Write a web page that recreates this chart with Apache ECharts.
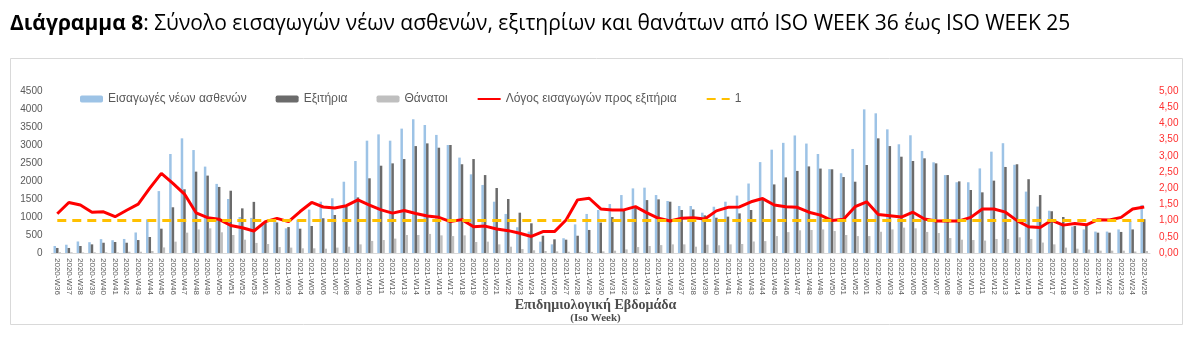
<!DOCTYPE html>
<html>
<head>
<meta charset="utf-8">
<script src="https://cdn.jsdelivr.net/npm/echarts@6/dist/echarts.min.js"></script>
<style>
html,body{margin:0;padding:0;background:#fff;}
#chart{width:1191px;height:338px;}
</style>
</head>
<body>
<div id="chart"></div>
<script>
const weeks = [
"2020-W36","2020-W37","2020-W38","2020-W39","2020-W40","2020-W41","2020-W42","2020-W43","2020-W44","2020-W45",
"2020-W46","2020-W47","2020-W48","2020-W49","2020-W50","2020-W51","2020-W52","2020-W53",
"2021-W01","2021-W02","2021-W03","2021-W04","2021-W05","2021-W06","2021-W07","2021-W08","2021-W09","2021-W10",
"2021-W11","2021-W12","2021-W13","2021-W14","2021-W15","2021-W16","2021-W17","2021-W18","2021-W19","2021-W20",
"2021-W21","2021-W22","2021-W23","2021-W24","2021-W25","2021-W26","2021-W27","2021-W28","2021-W29","2021-W30",
"2021-W31","2021-W32","2021-W33","2021-W34","2021-W35","2021-W36","2021-W37","2021-W38","2021-W39","2021-W40",
"2021-W41","2021-W42","2021-W43","2021-W44","2021-W45","2021-W46","2021-W47","2021-W48","2021-W49","2021-W50",
"2021-W51","2021-W52",
"2022-W01","2022-W02","2022-W03","2022-W04","2022-W05","2022-W06","2022-W07","2022-W08","2022-W09","2022-W10",
"2022-W11","2022-W12","2022-W13","2022-W14","2022-W15","2022-W16","2022-W17","2022-W18","2022-W19","2022-W20",
"2022-W21","2022-W22","2022-W23","2022-W24","2022-W25"
];

const admissions = [
195,230,320,300,385,355,390,570,935,1720,
2750,3185,2860,2400,1920,1500,1000,975,
850,900,685,925,1205,1425,1520,1980,2555,3120,
3295,3120,3455,3715,3555,3280,3000,2650,2185,1890,
1425,1085,715,595,315,240,410,795,1085,1195,
1360,1610,1795,1815,1610,1445,1305,1305,1120,1285,
1425,1595,1930,2525,2870,3060,3265,3040,2750,2330,
2215,2890,
3990,3880,3435,3020,3270,2835,2520,2165,1965,1965,
2350,2815,3050,2450,1705,1290,1175,825,735,655,
595,595,655,890,1335
];

const discharges = [
140,140,195,240,285,305,285,360,445,675,
1270,1770,2260,2150,1835,1730,1240,1420,
870,850,720,675,750,965,1055,1285,1545,2075,
2425,2490,2610,2970,3045,2925,3000,2465,2610,2165,
1805,1500,1120,825,480,380,370,480,640,845,
1000,1220,1250,1470,1490,1425,1195,1210,1045,980,
1010,1100,1195,1500,1905,2100,2280,2405,2345,2325,
2110,1980,
2445,3185,2970,2675,2555,2630,2490,2165,1990,1750,
1685,2010,2390,2465,2050,1610,1160,1000,750,760,
565,565,585,655,940
];

const deaths = [
20,20,15,20,20,15,35,35,55,155,
315,565,655,685,575,500,370,280,
250,165,150,130,130,120,150,175,240,335,
360,400,500,500,530,490,470,490,305,315,
240,175,110,75,55,45,35,30,30,45,
65,100,165,195,220,240,240,175,230,215,
240,250,320,330,470,580,630,640,655,610,
500,470,
470,590,655,705,685,585,555,415,370,360,
345,390,390,435,390,290,240,150,120,95,
65,65,65,40,55
];

const ratio = [
1.21,1.56,1.48,1.26,1.27,1.12,1.32,1.51,2.00,2.46,
2.15,1.82,1.24,1.09,1.04,0.85,0.78,0.68,
0.97,1.07,0.97,1.28,1.56,1.42,1.39,1.46,1.64,1.48,
1.33,1.23,1.31,1.22,1.14,1.10,0.97,1.03,0.81,0.83,
0.74,0.69,0.61,0.51,0.66,0.66,1.02,1.64,1.69,1.36,
1.33,1.33,1.43,1.24,1.07,0.99,1.07,1.09,1.05,1.30,
1.41,1.42,1.58,1.68,1.48,1.43,1.41,1.26,1.17,1.00,
1.04,1.43,
1.58,1.19,1.15,1.11,1.26,1.05,0.99,0.99,0.99,1.10,
1.36,1.36,1.26,1.00,0.81,0.79,1.01,0.86,0.91,0.87,
1.03,1.02,1.10,1.36,1.42
];

const oneLine = weeks.map(function(){ return 1; });

const seriesNames = ["Εισαγωγές νέων ασθενών","Εξιτήρια","Θάνατοι","Λόγος εισαγωγών προς εξιτήρια","1"];
const leftTicks = {min:0, max:4500, interval:500};
const rightTicks = {min:0, max:5, interval:0.5};

const chart = echarts.init(document.getElementById('chart'), null, {renderer:'canvas'});
const FONT = 'Liberation Sans, Arial, sans-serif';

chart.setOption({
  animation:false,
  backgroundColor:'#ffffff',
  title:{
    left:5, top:9,
    text:'{b|Διάγραμμα 8}{n|: Σύνολο εισαγωγών νέων ασθενών, εξιτηρίων και θανάτων από ISO WEEK 36 έως ISO WEEK 25}',
    textStyle:{
      rich:{
        b:{fontFamily:'Open Sans', fontSize:21, fontWeight:'bold', color:'#000'},
        n:{fontFamily:'Open Sans', fontSize:21, fontWeight:'normal', color:'#000'}
      }
    }
  },
  graphic:[
    {type:'rect', shape:{x:10.5, y:58.5, width:1172, height:266}, style:{fill:'none', stroke:'#D9D9D9', lineWidth:1}, silent:true, z:-1},
    {type:'text', left:'center', top:298, style:{text:'Επιδημιολογική Εβδομάδα', font:'bold 14px "Liberation Serif", "Times New Roman", serif', fill:'#4D4D4D'}},
    {type:'text', left:'center', top:313, style:{text:'(Iso Week)', font:'bold 11px "Liberation Serif", "Times New Roman", serif', fill:'#4D4D4D'}}
  ],
  legend:{
    left:75, top:88,
    itemWidth:23, itemHeight:7, itemGap:29,
    textStyle:{fontFamily:FONT, fontSize:12, color:'#595959'},
    data:seriesNames
  },
  grid:{left:51.5, right:41, top:91, bottom:85, containLabel:false},
  xAxis:{
    type:'category', data:weeks,
    axisLine:{lineStyle:{color:'#D9D9D9'}},
    axisTick:{show:false},
    axisLabel:{interval:0, rotate:-90, fontSize:8, color:'#595959', fontFamily:FONT, margin:5}
  },
  yAxis:[
    {type:'value', min:leftTicks.min, max:leftTicks.max, interval:leftTicks.interval,
     splitLine:{show:false}, axisLine:{show:false}, axisTick:{show:false},
     axisLabel:{fontSize:10, color:'#595959', fontFamily:FONT, margin:9,
       formatter:function(v){ return String(v); }}},
    {type:'value', min:rightTicks.min, max:rightTicks.max, interval:rightTicks.interval,
     splitLine:{show:false}, axisLine:{show:false}, axisTick:{show:false},
     axisLabel:{fontSize:10, color:'#FF3030', fontFamily:FONT, margin:9,
       formatter:function(v){ return v.toFixed(2).replace('.', ','); }}}
  ],
  series:[
    {name:seriesNames[0], type:'bar', data:admissions, itemStyle:{color:'#9DC3E6'}, barGap:'0%', barCategoryGap:'35%'},
    {name:seriesNames[1], type:'bar', data:discharges, itemStyle:{color:'#6B6B6B'}},
    {name:seriesNames[2], type:'bar', data:deaths, itemStyle:{color:'#BFBFBF'}},
    {name:seriesNames[3], type:'line', yAxisIndex:1, data:ratio, showSymbol:false, symbol:'none',
     lineStyle:{color:'#FF0000', width:3}, itemStyle:{color:'#FF0000', opacity:0}},
    {name:seriesNames[4], type:'line', yAxisIndex:1, data:oneLine, showSymbol:false, symbol:'none',
     lineStyle:{color:'#FFC000', width:3, type:[9,6]}, itemStyle:{color:'#FFC000', opacity:0}, z:3}
  ]
});
</script>
</body>
</html>
